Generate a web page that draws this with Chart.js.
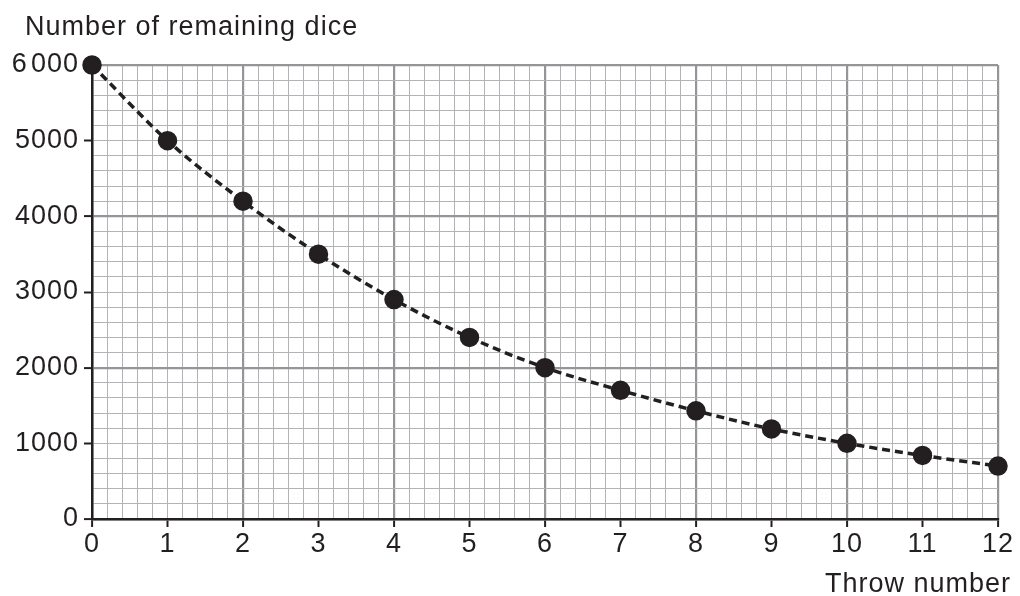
<!DOCTYPE html>
<html><head><meta charset="utf-8">
<script src="https://cdn.jsdelivr.net/npm/chart.js@4"></script>
<style>html,body{margin:0;padding:0;background:#fff}#wrap{width:1020px;height:596px}</style>
</head><body><div id="wrap"><canvas id="c" width="1020" height="596"></canvas></div>
<script>
const throws = [0,1,2,3,4,5,6,7,8,9,10,11,12];
const remaining = [6000,5000,4200,3500,2900,2400,2000,1700,1430,1190,1000,840,700];
const yTickLabels = ['0','1000','2000','3000','4000','5000','6\u200A000'];
const yTitle = 'Number of remaining dice';
const xTitle = 'Throw number';

const isInt = v => Math.abs(v - Math.round(v)) < 1e-6;
const isMajorX = v => isInt(v) && Math.round(v) % 2 === 0;
const isK = v => Math.abs(v/1000 - Math.round(v/1000)) < 1e-6;
const isMajorY = v => isK(v) && Math.round(v/1000) % 2 === 0;
const FONT = 'Liberation Sans, Arial, sans-serif';

const spacing = {
  id:'spacing',
  beforeLayout(chart){ chart.ctx.letterSpacing = '1px'; },
  beforeDraw(chart){ chart.ctx.letterSpacing = '1px'; }
};

const titles = {
  id:'titles',
  afterDraw(chart){
    const ctx = chart.ctx; ctx.save();
    ctx.letterSpacing = '1px';
    ctx.fillStyle = '#231f20';
    ctx.font = '27px ' + FONT;
    ctx.textBaseline = 'alphabetic';
    ctx.textAlign = 'left';
    ctx.fillText(yTitle, 25, 35);
    ctx.textAlign = 'right';
    ctx.fillText(xTitle, 1011, 592);
    ctx.restore();
  }
};

new Chart(document.getElementById('c'), {
  type:'line',
  data:{ datasets:[{
    data: throws.map((t,i)=>({x:t, y:remaining[i]})),
    borderColor:'#231f20', borderWidth:3.5, borderDash:[8,5],
    pointRadius:8, pointBackgroundColor:'#231f20', pointBorderColor:'#231f20',
    cubicInterpolationMode:'monotone', clip:false
  }]},
  options:{
    responsive:false, animation:false, devicePixelRatio:1,
    layout:{padding:{top:65,right:22,bottom:0,left:0}},
    plugins:{legend:{display:false}, tooltip:{enabled:false}},
    scales:{
      x:{type:'linear', min:0, max:12,
        afterFit(s){ s.height = 77; },
        afterBuildTicks(s){ const t=[]; for(let i=0;i<=60;i++) t.push({value:i/5}); s.ticks=t; },
        ticks:{ autoSkip:false, maxRotation:0, padding:1, color:'#231f20', font:{size:27, family:FONT},
          callback:v => isInt(v) ? String(Math.round(v)) : '' },
        grid:{ tickLength:8,
          color:c => isMajorX(c.tick.value) ? '#939598' : '#b1b3b6',
          lineWidth:c => isMajorX(c.tick.value) ? 2.2 : 1,
          tickColor:c => isInt(c.tick.value) ? '#231f20' : 'rgba(0,0,0,0)',
          tickWidth:2 },
        border:{display:true, color:'#231f20', width:2.5}
      },
      y:{type:'linear', min:0, max:6000,
        afterFit(s){ s.width = 92; },
        afterBuildTicks(s){ const t=[]; for(let i=0;i<=30;i++) t.push({value:i*200}); s.ticks=t; },
        ticks:{ autoSkip:false, padding:5, color:'#231f20', font:{size:27, family:FONT},
          callback:v => isK(v) ? yTickLabels[Math.round(v/1000)] : '' },
        grid:{ tickLength:8,
          color:c => isMajorY(c.tick.value) ? '#939598' : '#b1b3b6',
          lineWidth:c => isMajorY(c.tick.value) ? 2.2 : 1,
          tickColor:c => isK(c.tick.value) ? '#231f20' : 'rgba(0,0,0,0)',
          tickWidth:2 },
        border:{display:true, color:'#231f20', width:2.5}
      }
    }
  },
  plugins:[spacing, titles]
});
</script></body></html>
